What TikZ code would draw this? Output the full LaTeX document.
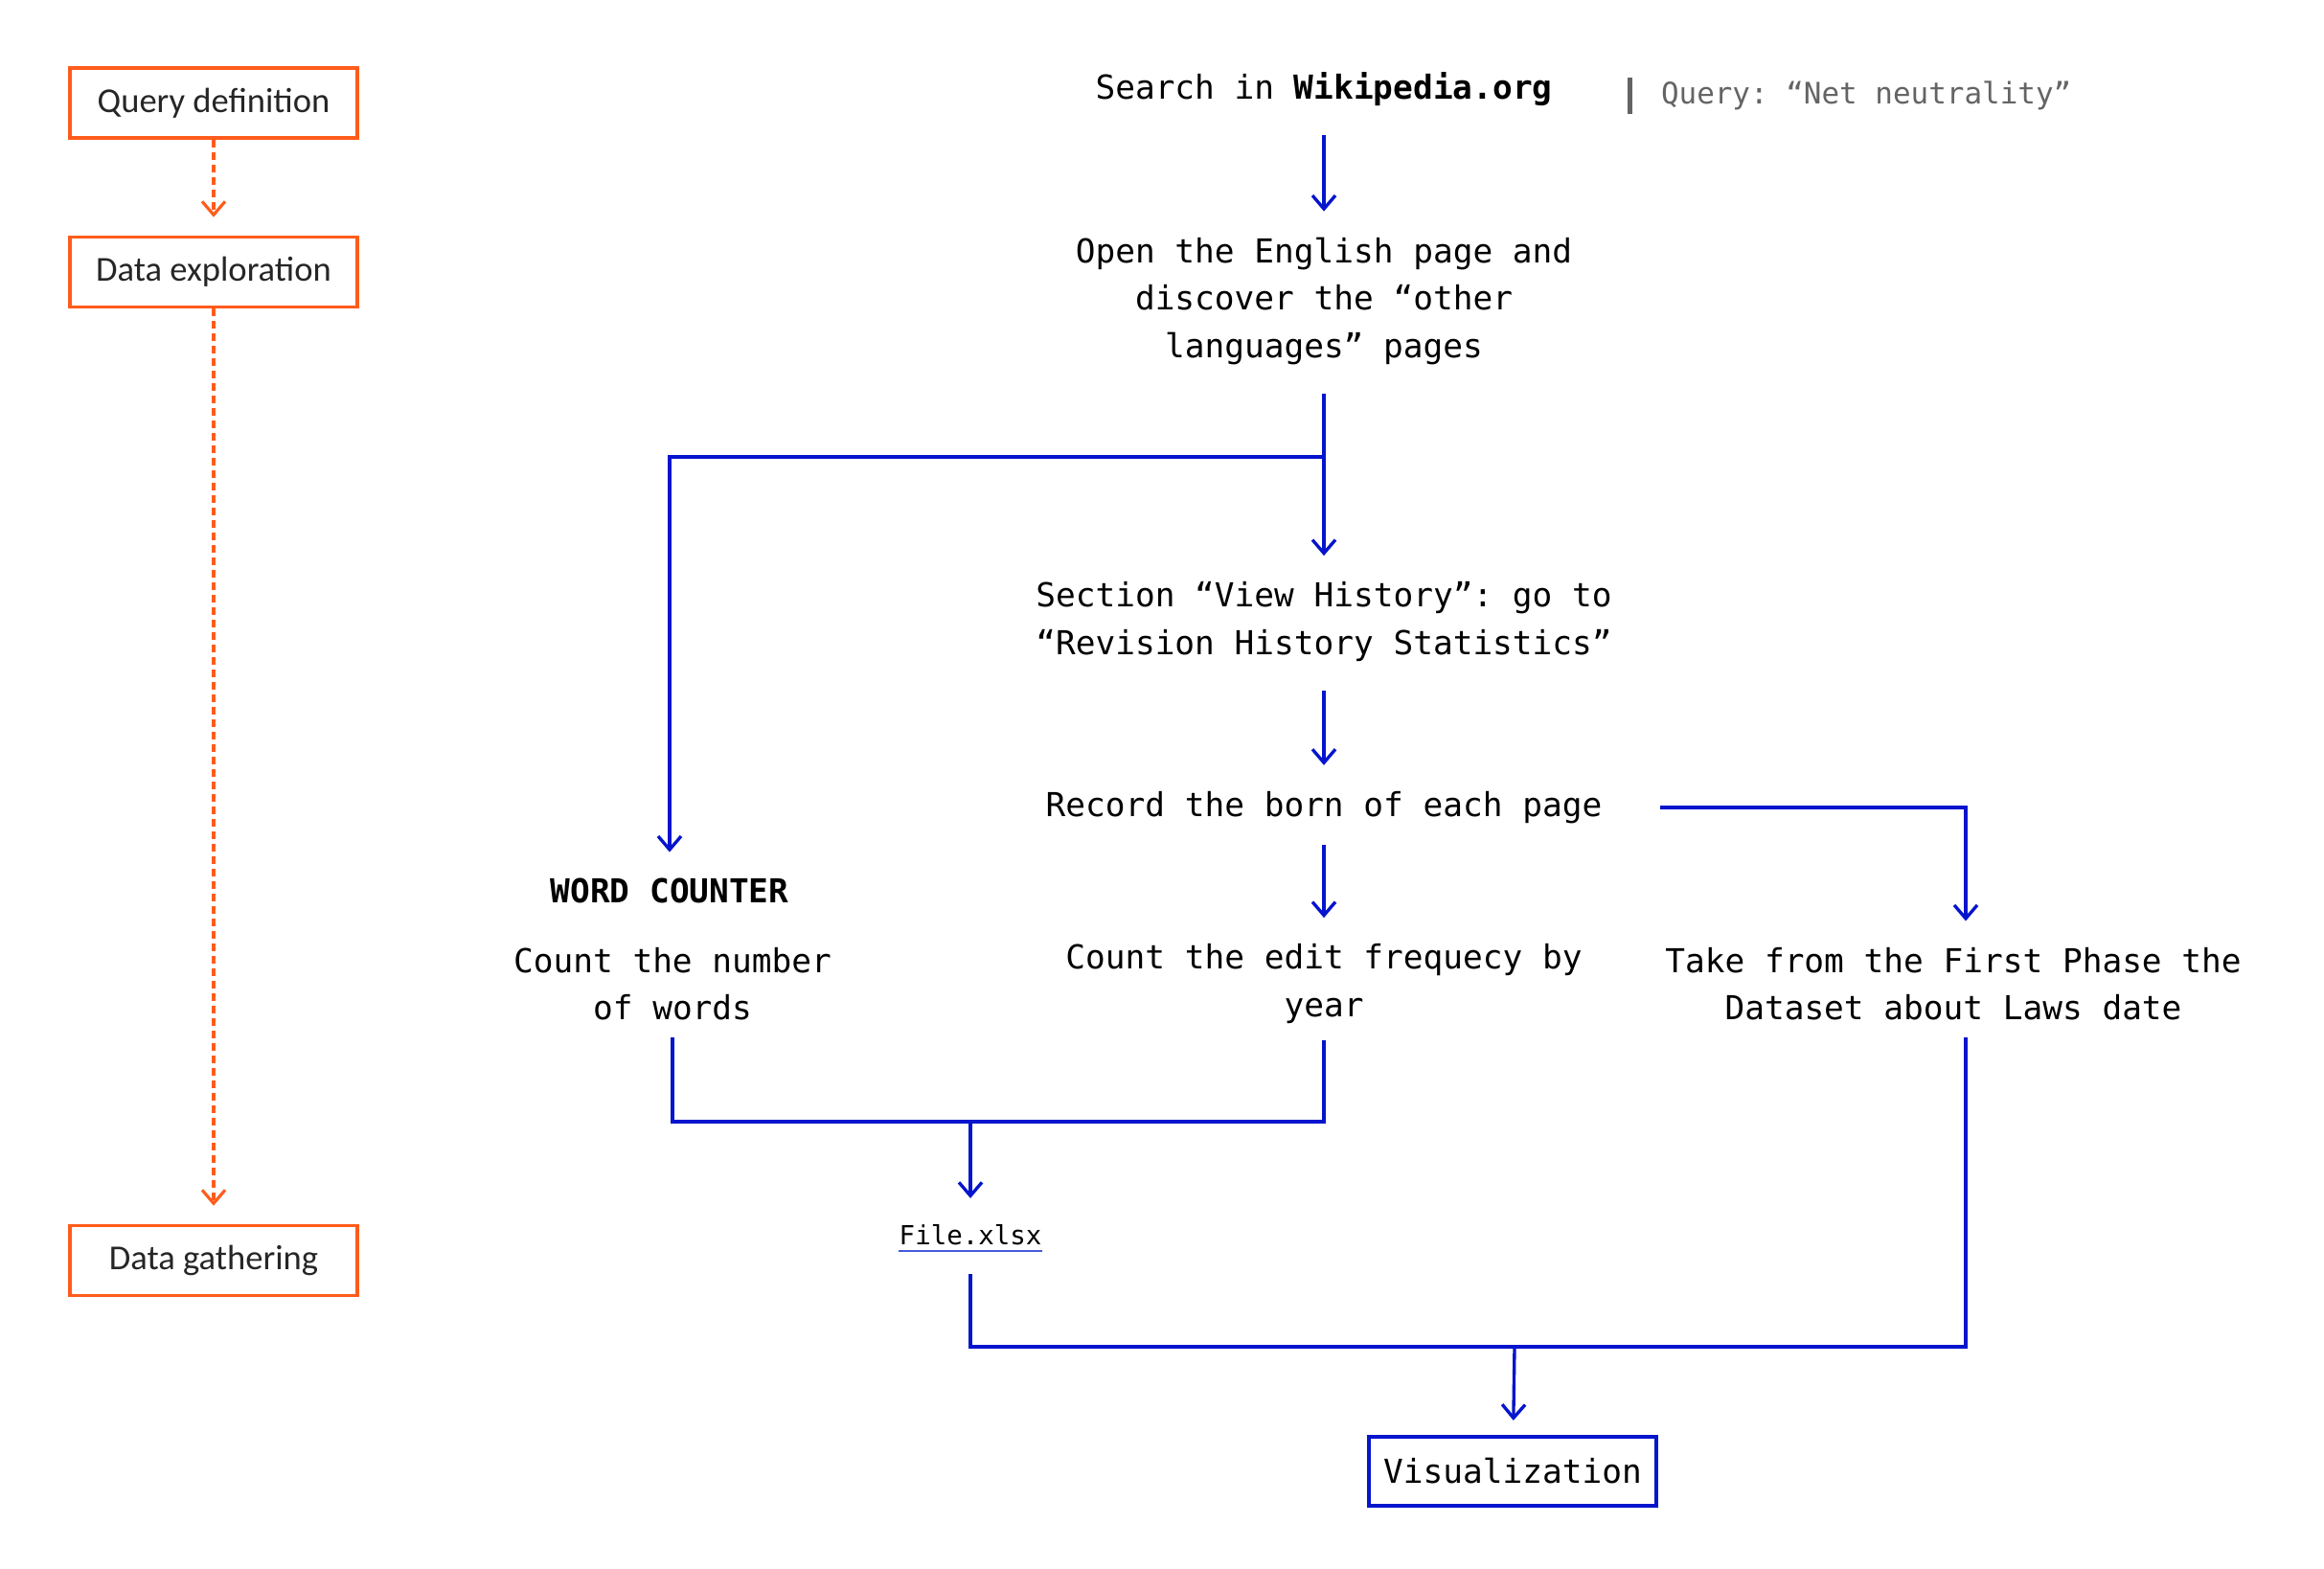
\documentclass[tikz,border=0pt]{standalone}
\usepackage{fontspec}
\setmonofont{DejaVu Sans Mono}
\newfontfamily\boxfont{Carlito}
\usepackage{tikz}
\usetikzlibrary{arrows.meta, positioning, calc}
\usepackage{xcolor}
\definecolor{flowblue}{RGB}{5, 20, 205}
\definecolor{phaseorange}{RGB}{255, 92, 28}
\definecolor{querygray}{RGB}{100, 100, 100}
\definecolor{lineblue}{RGB}{70, 90, 220}
\tikzstyle{phase}  = [rectangle, minimum width=3cm, minimum height=0.73cm, text centered,
                      draw=phaseorange, line width=1pt, text=black!85,
                      font=\boxfont\fontsize{10.4}{12}\selectfont]
\tikzstyle{stage}  = [align=center, font=\ttfamily\fontsize{9.8}{14.1}\selectfont]
\tikzstyle{output} = [rectangle, minimum width=3cm, minimum height=0.72cm, text centered,
                      draw=flowblue, line width=1.2pt, font=\ttfamily\fontsize{9.8}{12}\selectfont]
\tikzstyle{arrow}  = [-{Straight Barb[length=1.4mm, width=2.4mm]}, flowblue, line width=0.95pt,
                      shorten <=0.18cm, shorten >=0.15cm]
\tikzstyle{bus}    = [flowblue, line width=1.05pt, shorten <=0.08cm, shorten >=0.08cm]
\tikzstyle{dasharrow} = [-{Straight Barb[length=1.4mm, width=2.4mm]}, phaseorange, line width=0.9pt,
                         dash pattern=on 0.08cm off 0.05cm, shorten >=0.19cm]
\begin{document}
\begin{tikzpicture}
  \useasboundingbox (0,0) rectangle (24.26,-16.38);

  % phases on the left
  \node (qdef) [phase] at (2.23,-1.075) {Query definition};
  \node (dexp) [phase] at (2.23,-2.84)  {Data exploration};
  \node (dgat) [phase] at (2.23,-13.16) {Data gathering};

  % main flow
  \node (search)  [stage] at (13.82,-0.935) {Search in \textbf{Wikipedia.org}};
  \node (query)   [anchor=base west, text=querygray, font=\ttfamily\fontsize{8.8}{10}\selectfont]
                  at (16.87,-1.09) {\rule[-0.1cm]{1.3pt}{0.38cm}\hspace{0.3cm}Query: “Net neutrality”};
  \node (open)    [stage] at (13.82,-3.145) {Open the English page and\\discover the “other\\languages” pages};
  \node (section) [stage] at (13.82,-6.49)  {Section “View History”: go to\\“Revision History Statistics”};
  \node (record)  [stage] at (13.82,-8.43)  {Record the born of each page};

  \node (wc)      [stage, font=\ttfamily\bfseries\fontsize{9.8}{14.1}\selectfont] at (6.99,-9.30) {WORD COUNTER};
  \node (countw)  [stage] at (7.02,-10.27)  {Count the number\\of words};
  \node (countf)  [stage] at (13.82,-10.27) {Count the edit frequecy by\\year};
  \node (take)    [stage] at (20.39,-10.27) {Take from the First Phase the\\Dataset about Laws date};

  \node (file)    [inner xsep=0pt, font=\ttfamily\fontsize{7.8}{9}\selectfont] at (10.13,-12.89) {File.xlsx};
  \node (vis)     [output] at (15.79,-15.36) {Visualization};

  \coordinate (split)  at (13.82,-4.77);
  \coordinate (merge1) at (10.13,-11.71);
  \coordinate (merge2) at (15.81,-14.06);

  \draw [lineblue, line width=0.6pt] ([yshift=-0.07cm]file.base west) -- ([yshift=-0.07cm]file.base east);

  \draw [dasharrow] (qdef) -- (dexp);
  \draw [dasharrow] (dexp) -- (dgat);

  \draw [arrow] (search) -- (open);
  \draw [arrow, shorten >=0.15cm] (open) -- (section);
  \draw [arrow, shorten <=0pt] (split) -| (wc);
  \draw [arrow] (section) -- (record);
  \draw [arrow, shorten <=0.1cm] (record) -- (countf);
  \draw [arrow, shorten <=0.48cm] (record) -| ([xshift=0.13cm]take.north);

  \draw [bus, shorten <=0.05cm, shorten >=0.05cm] (countw) |- (merge1) -| (countf);
  \draw [arrow, shorten <=0pt] (merge1) -- (file);
  \draw [bus, shorten <=0.18cm, shorten >=0.05cm] (file) |- (merge2) -| ([xshift=0.13cm]take.south);
  \draw [arrow, shorten <=0pt] (merge2) -- (vis);
\end{tikzpicture}
\end{document}
